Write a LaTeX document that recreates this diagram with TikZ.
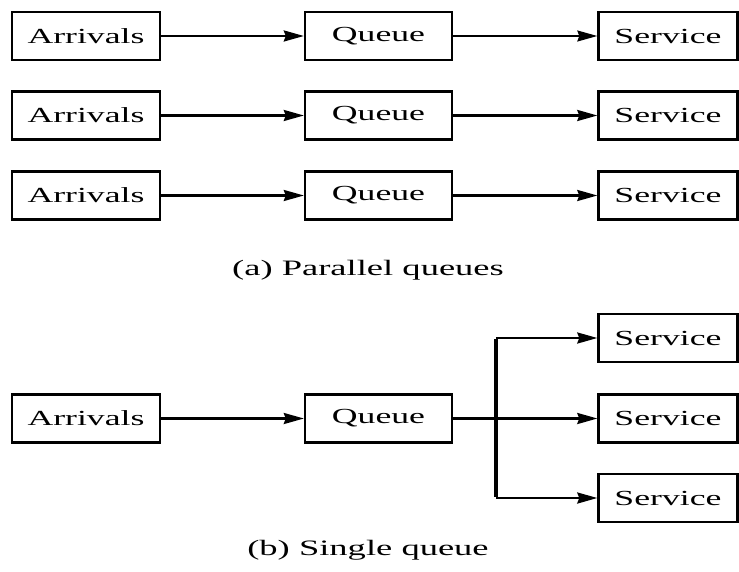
\documentclass[tikz,border=0pt]{standalone}
\usepackage{fontspec}
\usepackage{graphicx}
\setmainfont{Liberation Serif}
\usetikzlibrary{arrows.meta}
\newcommand{\widetext}[1]{\scalebox{1.66}[1]{#1}}
\begin{document}
\begin{tikzpicture}[x=1pt,y=-1pt,
  box/.style={draw,line width=2.4pt,minimum height=48pt,inner sep=0pt,font=\fontsize{21.5}{21.5}\selectfont},
  arr/.style={box,minimum width=148pt},
  que/.style={box,minimum width=147pt},
  srv/.style={box,minimum width=139pt},
  flow/.style={line width=2.4pt,-{Stealth[length=20pt,width=11pt,inset=2pt]}},
  captext/.style={font=\fontsize{22}{22}\selectfont}]
\useasboundingbox (0,0) rectangle (739,572);
% (a) parallel queues
\node[arr] (a1) at (86,36) {\widetext{Arrivals}};
\node[que] (q1) at (378.5,36) {\widetext{Queue}};
\node[srv] (s1) at (668,36) {\widetext{Service}};
\node[arr] (a2) at (86,115.5) {\widetext{Arrivals}};
\node[que] (q2) at (378.5,115.5) {\widetext{Queue}};
\node[srv] (s2) at (668,115.5) {\widetext{Service}};
\node[arr] (a3) at (86,195.5) {\widetext{Arrivals}};
\node[que] (q3) at (378.5,195.5) {\widetext{Queue}};
\node[srv] (s3) at (668,195.5) {\widetext{Service}};
\draw[flow] (a1) -- (q1);
\draw[flow,line width=1.6pt] (q1) -- (s1);
\draw[flow] (a2) -- (q2);
\draw[flow] (q2) -- (s2);
\draw[flow] (a3) -- (q3);
\draw[flow] (q3) -- (s3);
\node[captext] (capa) at (368,270) {\widetext{(a) Parallel queues}};
% (b) single queue
\node[arr] (ab) at (86,418.5) {\widetext{Arrivals}};
\node[que] (qb) at (378.5,418.5) {\widetext{Queue}};
\node[srv] (sb1) at (668,338) {\widetext{Service}};
\node[srv] (sb2) at (668,418.5) {\widetext{Service}};
\node[srv] (sb3) at (668,498) {\widetext{Service}};
\coordinate (br) at (496,418.5);
\coordinate (bt) at (496,338);
\coordinate (bb) at (496,498);
\draw[flow] (ab) -- (qb);
\draw[line width=2.4pt] (qb) -- (br);
\draw[line width=3.4pt] ([yshift=-1.2pt]bt) -- ([yshift=1.2pt]bb);
\draw[flow] (bt) -- (sb1);
\draw[flow] (br) -- (sb2);
\draw[flow] (bb) -- (sb3);
\node[captext] (capb) at (368,550) {\widetext{(b) Single queue}};
\end{tikzpicture}
\end{document}
